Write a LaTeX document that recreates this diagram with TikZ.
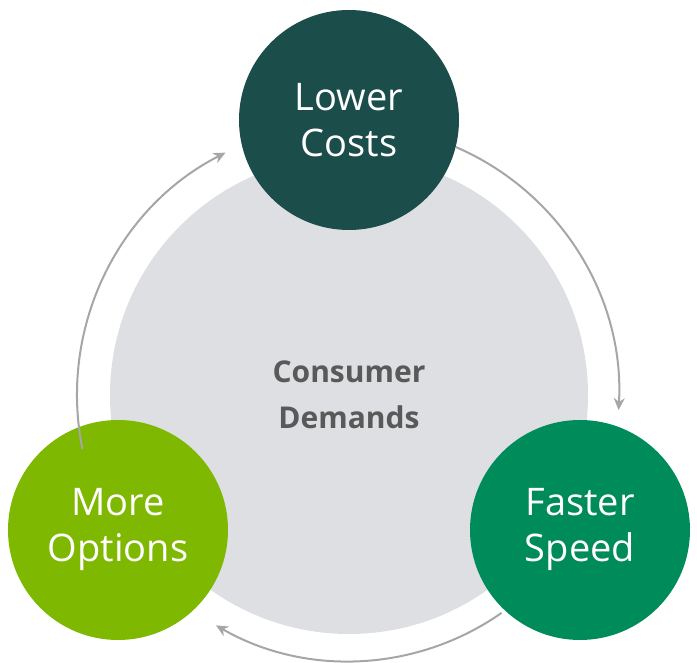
\documentclass[tikz,border=0pt]{standalone}
\usepackage{fontspec}
\setmainfont{Open Sans}
\usetikzlibrary{arrows.meta}
\definecolor{cteal}{HTML}{1B4D4A}
\definecolor{cgreen}{HTML}{008C5A}
\definecolor{clime}{HTML}{7FB800}
\definecolor{cgray}{HTML}{DDDFE2}
\definecolor{ctext}{HTML}{595959}
\definecolor{carrow}{HTML}{A6A6A6}
\begin{document}
\begin{tikzpicture}[x=1pt,y=1pt,
  bubble/.style={circle,minimum size=220pt,inner sep=0pt,text=white,align=center,font=\fontsize{38}{46}\selectfont},
  cyc/.style={draw=carrow,line width=2pt,-{Stealth[length=12pt,width=11pt]}}]
\useasboundingbox (0,0) rectangle (697,663);
\coordinate (c) at (349,268);
\node[circle,fill=cgray,minimum size=478pt,inner sep=0pt,text=ctext,align=center,font=\bfseries\fontsize{30}{46}\selectfont] (mid) at (349,268) {Consumer\\Demands};
\node[bubble,fill=cteal] (top) at (349,543) {Lower\\Costs};
\node[bubble,fill=cgreen] (right) at (580,133) {Faster\\Speed};
\node[bubble,fill=clime] (left) at (118,133) {More\\Options};
\draw[cyc] ([shift={(66.7:270)}]c) arc[start angle=66.7,end angle=-3.2,radius=270];
\draw[cyc] ([shift={(-55:266)}]c) arc[start angle=-55,end angle=-120,radius=266];
\draw[cyc] ([shift={(191.5:272)}]c) arc[start angle=191.5,end angle=117,radius=272];
\end{tikzpicture}
\end{document}
